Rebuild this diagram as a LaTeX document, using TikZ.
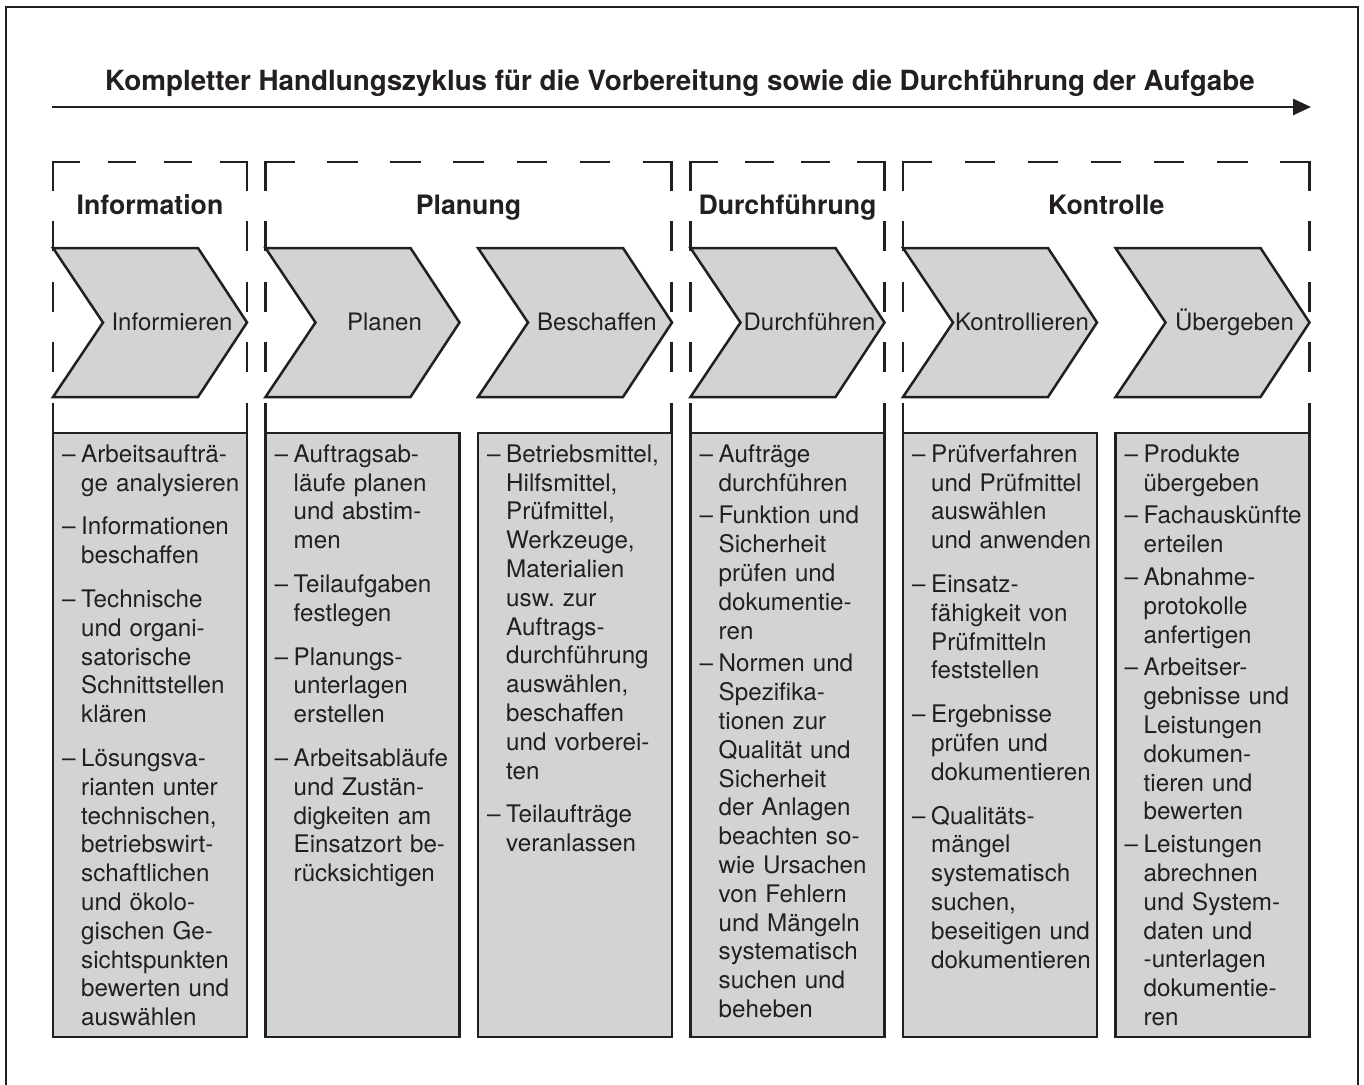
\documentclass[tikz,border=0pt]{standalone}
\usepackage{fontspec}
\setmainfont{TeX Gyre Heros}
\usetikzlibrary{arrows.meta}
\definecolor{ink}{RGB}{35,31,32}
\definecolor{boxgray}{RGB}{209,211,212}
\newcommand\kitem[1]{\makebox[19pt][l]{–}#1}
\newcommand\kcont{\hspace*{19pt}}
\newcommand\dashgroup[4]{%
  \draw[dashln, dash pattern=on #3pt off #4pt] (#1-1.25,162) -- (#2+1.25,162);
  \draw[dashln, dash pattern=on 30pt off 30.56pt] (#1,160.75) -- (#1,433);
  \draw[dashln, dash pattern=on 30pt off 30.56pt] (#2,160.75) -- (#2,433);}
\newcommand\chevron[3]{%
  \draw[chev] (#1,248) -- (#1+145,248) -- (#1+194,322.5) -- (#1+145,397) -- (#1,397) -- (#1+50,322.5) -- cycle;
  \node[steplabel] (#2) at (#1+119,330) {#3};}
\begin{document}
\begin{tikzpicture}[x=1pt,y=-1pt,line join=miter,
  every node/.style={text=ink, inner sep=0pt},
  solidln/.style={line width=2.5pt, draw=ink},
  dashln/.style={line width=2.5pt, draw=ink},
  chev/.style={solidln, fill=boxgray},
  tbox/.style={solidln, fill=boxgray},
  steplabel/.style={anchor=base, font=\fontsize{24}{28.8}\selectfont},
  grouptitle/.style={anchor=base, font=\fontsize{26.7}{30}\selectfont\bfseries},
  maintitle/.style={anchor=base, font=\fontsize{27.8}{32}\selectfont\bfseries},
  coltext/.style={anchor=north west, text width=230pt, align=left,
    font=\fontsize{24.2}{28.8}\selectfont\frenchspacing}]
\useasboundingbox (0,0) rectangle (1364,1084);
\fill[white] (0,0) rectangle (1364,1084);
% outer frame
\draw[solidln] (6,1090) -- (6,7) -- (1358,7) -- (1358,1090);
% title and arrow
\node[maintitle] (title) at (680,90) {Kompletter Handlungszyklus für die Vorbereitung sowie die Durchführung der Aufgabe};
\coordinate (arrS) at (52,107);
\coordinate (arrE) at (1311,107);
\draw[solidln, -{Triangle[length=18pt,width=16pt]}] (arrS) -- (arrE);
% dashed group frames
\dashgroup{53}{247}{28.6}{27.33}
\dashgroup{265.5}{671.5}{30.4}{32.67}
\dashgroup{690.5}{884.5}{28.6}{27.33}
\dashgroup{903}{1309.5}{30.4}{32.67}
% group titles
\node[grouptitle] (gInfo) at (150,214) {Information};
\node[grouptitle] (gPlan) at (468.5,214) {Planung};
\node[grouptitle] (gDurch) at (787.5,214) {Durchführung};
\node[grouptitle] (gKontr) at (1106.25,214) {Kontrolle};
% chevrons
\chevron{53}{cInfo}{Informieren}
\chevron{265.5}{cPlan}{Planen}
\chevron{478}{cBesch}{Beschaffen}
\chevron{690.5}{cDurch}{Durchführen}
\chevron{903}{cKontr}{Kontrollieren}
\chevron{1115.5}{cUeber}{Übergeben}
% text boxes
\draw[tbox] (53,433) rectangle (247,1037);
\draw[tbox] (265.5,433) rectangle (459.5,1037);
\draw[tbox] (478,433) rectangle (672,1037);
\draw[tbox] (690.5,433) rectangle (884.5,1037);
\draw[tbox] (903,433) rectangle (1097,1037);
\draw[tbox] (1115.5,433) rectangle (1309.5,1037);
% column texts
\node[coltext] (tInfo) at (62,441.84) {\strut\kitem{Arbeitsaufträ-}\\
\kcont ge analysieren\\[15pt]
\kitem{Informationen}\\
\kcont beschaffen\\[15pt]
\kitem{Technische}\\
\kcont und organi-\\
\kcont satorische\\
\kcont Schnittstellen\\
\kcont klären\\[15pt]
\kitem{Lösungsva-}\\
\kcont rianten unter\\
\kcont technischen,\\
\kcont betriebswirt-\\
\kcont schaftlichen\\
\kcont und ökolo-\\
\kcont gischen Ge-\\
\kcont sichtspunkten\\
\kcont bewerten und\\
\kcont auswählen};
\node[coltext] (tPlan) at (274.5,441.84) {\strut\kitem{Auftragsab-}\\
\kcont läufe planen\\
\kcont und abstim-\\
\kcont men\\[15pt]
\kitem{Teilaufgaben}\\
\kcont festlegen\\[15pt]
\kitem{Planungs-}\\
\kcont unterlagen\\
\kcont erstellen\\[15pt]
\kitem{Arbeitsabläufe}\\
\kcont und Zustän-\\
\kcont digkeiten am\\
\kcont Einsatzort be-\\
\kcont rücksichtigen};
\node[coltext] (tBesch) at (487,441.84) {\strut\kitem{Betriebsmittel,}\\
\kcont Hilfsmittel,\\
\kcont Prüfmittel,\\
\kcont Werkzeuge,\\
\kcont Materialien\\
\kcont usw. zur\\
\kcont Auftrags-\\
\kcont durchführung\\
\kcont auswählen,\\
\kcont beschaffen\\
\kcont und vorberei-\\
\kcont ten\\[15pt]
\kitem{Teilaufträge}\\
\kcont veranlassen};
\node[coltext] (tDurch) at (699.5,441.84) {\strut\kitem{Aufträge}\\
\kcont durchführen\\[4pt]
\kitem{Funktion und}\\
\kcont Sicherheit\\
\kcont prüfen und\\
\kcont dokumentie-\\
\kcont ren\\[4pt]
\kitem{Normen und}\\
\kcont Spezifika-\\
\kcont tionen zur\\
\kcont Qualität und\\
\kcont Sicherheit\\
\kcont der Anlagen\\
\kcont beachten so-\\
\kcont wie Ursachen\\
\kcont von Fehlern\\
\kcont und Mängeln\\
\kcont systematisch\\
\kcont suchen und\\
\kcont beheben};
\node[coltext] (tKontr) at (912,441.84) {\strut\kitem{Prüfverfahren}\\
\kcont und Prüfmittel\\
\kcont auswählen\\
\kcont und anwenden\\[15pt]
\kitem{Einsatz-}\\
\kcont fähigkeit von\\
\kcont Prüfmitteln\\
\kcont feststellen\\[15pt]
\kitem{Ergebnisse}\\
\kcont prüfen und\\
\kcont dokumentieren\\[15pt]
\kitem{Qualitäts-}\\
\kcont mängel\\
\kcont systematisch\\
\kcont suchen,\\
\kcont beseitigen und\\
\kcont dokumentieren};
\node[coltext] (tUeber) at (1124.5,441.84) {\strut\kitem{Produkte}\\
\kcont übergeben\\[4pt]
\kitem{Fachauskünfte}\\
\kcont erteilen\\[4pt]
\kitem{Abnahme-}\\
\kcont protokolle\\
\kcont anfertigen\\[4pt]
\kitem{Arbeitser-}\\
\kcont gebnisse und\\
\kcont Leistungen\\
\kcont dokumen-\\
\kcont tieren und\\
\kcont bewerten\\[4pt]
\kitem{Leistungen}\\
\kcont abrechnen\\
\kcont und System-\\
\kcont daten und\\
\kcont -unterlagen\\
\kcont dokumentie-\\
\kcont ren};
\end{tikzpicture}
\end{document}
